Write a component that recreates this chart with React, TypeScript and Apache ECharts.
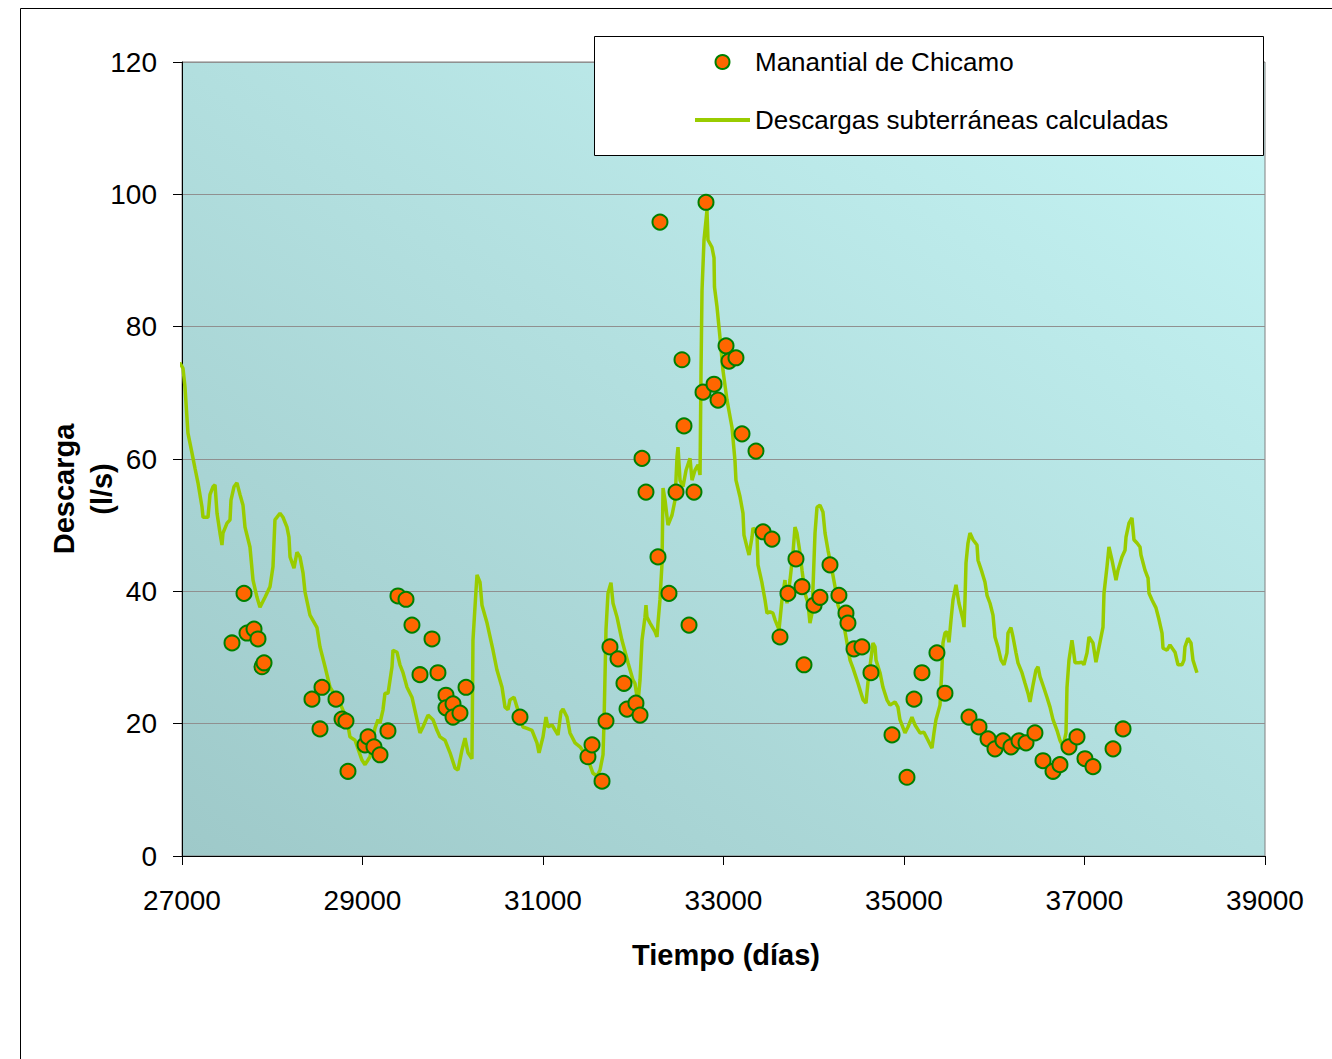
import React, { useEffect, useRef } from "react";
import * as echarts from "echarts";

// Observed spring discharge: [day, l/s]
const springDays = [
  27554, 27687, 27720, 27798, 27842, 27886, 27909, 28440, 28551, 28529, 28706, 28773, 28817, 28839,
  29028, 29061, 29127, 29194, 29282, 29393, 29482, 29548, 29637, 29770, 29836, 29925, 29925, 30003,
  30003, 30080, 30147, 30745, 31498, 31543, 31654, 31698, 31742, 31831, 31897, 31931, 32030, 32075,
  32097, 32141, 32274, 32296, 32396, 32474, 32540, 32562, 32618, 32673, 32773, 32806, 32895, 32939,
  33028, 33061, 33138, 33205, 33360, 33438, 33537, 33626, 33714, 33803, 33870, 33892, 34003, 34069,
  34180, 34279, 34357, 34379, 34446, 34534, 34634, 34867, 35033, 35111, 35199, 35365, 35454, 35720,
  35831, 35931, 36008, 36097, 36185, 36274, 36352, 36451, 36540, 36651, 36728, 36828, 36917, 37005,
  37094, 37316, 37427,
];
const springValues = [
  32.2, 39.7, 33.7, 34.3, 32.8, 28.6, 29.2, 23.7, 25.5, 19.2, 23.7, 20.7, 20.4, 12.8,
  16.8, 18.0, 16.5, 15.3, 18.9, 39.3, 38.8, 34.9, 27.4, 32.8, 27.7, 24.3, 22.4, 23.0,
  21.0, 21.6, 25.5, 21.0, 15.0, 16.8, 11.3, 20.4, 31.6, 29.8, 26.1, 22.2, 23.1, 21.3,
  60.1, 55.0, 45.2, 95.8, 39.7, 55.0, 75.0, 65.0, 34.9, 55.0, 70.1, 98.8, 71.3, 68.9,
  77.1, 74.8, 75.3, 63.8, 61.2, 49.0, 47.9, 33.1, 39.7, 44.9, 40.7, 28.9, 37.9, 39.1,
  44.0, 39.4, 36.7, 35.2, 31.3, 31.6, 27.7, 18.3, 11.9, 23.7, 27.7, 30.7, 24.6, 21.0,
  19.5, 17.7, 16.2, 17.4, 16.5, 17.4, 17.1, 18.6, 14.4, 12.8, 13.8, 16.5, 18.0, 14.7,
  13.5, 16.2, 19.2,
];

// Calculated groundwater discharge: [day, l/s]
const calcDays = [
  26911, 26922, 26978, 27011, 27033, 27066, 27111, 27144, 27177, 27222, 27233, 27288, 27310, 27343,
  27366, 27388, 27421, 27443, 27454, 27499, 27532, 27543, 27576, 27609, 27643, 27676, 27698, 27753,
  27787, 27831, 27864, 27920, 27975, 28008, 28030, 28086, 28119, 28163, 28185, 28197, 28241, 28274,
  28307, 28341, 28363, 28418, 28496, 28529, 28585, 28640, 28751, 28828, 28861, 28917, 28994, 29028,
  29083, 29138, 29172, 29194, 29227, 29249, 29283, 29327, 29338, 29382, 29415, 29449, 29493, 29548,
  29604, 29637, 29670, 29726, 29781, 29825, 29859, 29914, 29970, 30025, 30058, 30102, 30136, 30169,
  30213, 30224, 30258, 30269, 30302, 30324, 30380, 30446, 30490, 30546, 30579, 30612, 30634, 30679,
  30712, 30778, 30823, 30878, 30933, 30956, 31000, 31033, 31055, 31100, 31166, 31199, 31222, 31266,
  31299, 31355, 31410, 31488, 31554, 31598, 31632, 31665, 31676, 31698, 31720, 31753, 31776, 31820,
  31875, 31942, 31997, 32019, 32052, 32075, 32097, 32130, 32141, 32152, 32186, 32241, 32263, 32274,
  32296, 32319, 32330, 32352, 32385, 32429, 32463, 32485, 32496, 32518, 32551, 32585, 32629, 32651,
  32684, 32718, 32740, 32751, 32762, 32784, 32806, 32817, 32828, 32872, 32895, 32900, 32928, 32961,
  32994, 33039, 33094, 33127, 33138, 33183, 33216, 33227, 33260, 33283, 33316, 33327, 33371, 33382,
  33426, 33460, 33482, 33515, 33548, 33571, 33615, 33648, 33681, 33704, 33737, 33770, 33792, 33814,
  33848, 33870, 33903, 33936, 33958, 33981, 34014, 34036, 34069, 34102, 34125, 34158, 34202, 34236,
  34269, 34324, 34357, 34402, 34435, 34490, 34546, 34579, 34601, 34623, 34656, 34679, 34690, 34734,
  34767, 34811, 34845, 34900, 34933, 34955, 35011, 35044, 35088, 35122, 35177, 35221, 35266, 35310,
  35332, 35354, 35399, 35421, 35432, 35454, 35476, 35498, 35521, 35543, 35576, 35609, 35654, 35665,
  35676, 35687, 35709, 35731, 35765, 35809, 35820, 35864, 35897, 35920, 35953, 35986, 36008, 36041,
  36075, 36108, 36141, 36152, 36185, 36208, 36241, 36263, 36307, 36341, 36374, 36396, 36429, 36462,
  36485, 36507, 36540, 36584, 36618, 36651, 36695, 36728, 36762, 36795, 36806, 36828, 36861, 36872,
  36895, 36939, 36972, 36994, 37028, 37050, 37094, 37127, 37161, 37205, 37216, 37249, 37271, 37305,
  37349, 37371, 37415, 37449, 37460, 37493, 37526, 37548, 37582, 37615, 37626, 37670, 37704, 37715,
  37748, 37792, 37826, 37859, 37870, 37914, 37947, 38003, 38036, 38080, 38102, 38113, 38146, 38180,
  38202, 38246,
];
const calcValues = [
  81.3, 73.9, 74.5, 73.7, 70.9, 63.9, 60.9, 58.6, 56.4, 52.7, 51.2, 51.2, 54.6, 55.8,
  56.1, 51.8, 48.8, 47.0, 48.8, 50.3, 50.8, 53.8, 55.8, 56.4, 54.6, 53.0, 49.7, 46.7,
  41.7, 39.1, 37.6, 39.1, 40.7, 43.7, 50.8, 51.8, 51.2, 49.7, 48.2, 45.2, 43.5, 45.9,
  45.2, 42.8, 39.9, 36.4, 34.5, 31.6, 28.6, 25.5, 23.1, 20.6, 18.0, 17.5, 14.5, 13.8,
  15.0, 19.3, 20.6, 20.1, 22.1, 24.6, 24.6, 28.6, 31.1, 30.8, 28.9, 27.7, 25.5, 24.0,
  20.6, 18.6, 19.5, 21.3, 20.6, 19.0, 18.0, 17.5, 15.6, 13.3, 13.0, 16.0, 17.8, 15.6,
  14.7, 32.6, 40.2, 42.5, 41.4, 37.9, 35.2, 31.1, 28.1, 25.5, 22.5, 22.1, 23.6, 24.0,
  22.5, 19.5, 19.3, 19.0, 17.1, 15.6, 18.0, 21.0, 19.5, 19.8, 18.3, 21.8, 22.2, 21.0,
  18.6, 17.1, 16.5, 15.0, 12.5, 12.1, 13.0, 15.3, 20.1, 34.2, 39.7, 41.3, 38.2, 36.1,
  32.6, 29.2, 26.6, 26.1, 23.1, 26.6, 32.6, 36.1, 37.9, 36.1, 35.2, 33.9, 33.1, 35.2,
  38.7, 44.3, 55.6, 53.8, 50.0, 51.5, 53.8, 60.3, 61.8, 56.8, 55.8, 58.3, 60.1, 56.8,
  58.3, 59.1, 57.6, 73.4, 85.5, 93.1, 96.1, 97.6, 93.1, 92.0, 90.4, 86.0, 83.0, 78.4,
  73.4, 68.9, 64.8, 59.8, 56.8, 54.3, 51.8, 48.5, 46.7, 45.5, 48.2, 49.6, 48.8, 44.0,
  41.3, 38.7, 36.7, 36.9, 36.7, 35.7, 34.2, 38.7, 41.7, 38.2, 41.7, 45.8, 49.7, 48.8,
  45.8, 43.2, 39.7, 38.2, 35.2, 36.7, 48.8, 52.7, 53.0, 52.0, 48.8, 46.2, 43.2, 40.7,
  37.9, 35.7, 33.1, 29.6, 28.4, 26.1, 23.6, 23.1, 26.3, 28.6, 32.2, 31.6, 29.6, 27.7,
  25.5, 23.6, 22.8, 23.3, 22.5, 20.6, 18.6, 19.5, 21.0, 19.8, 18.6, 18.7, 17.5, 16.3,
  18.6, 20.6, 22.8, 28.6, 32.2, 33.7, 33.9, 32.3, 35.7, 38.7, 41.0, 38.2, 35.7, 34.6,
  38.7, 44.3, 47.3, 48.8, 47.8, 47.0, 44.7, 42.9, 41.4, 39.4, 38.2, 36.4, 33.1, 31.6,
  29.6, 28.9, 30.7, 33.7, 34.5, 33.1, 30.7, 29.2, 27.7, 26.1, 24.6, 23.3, 25.8, 28.1,
  28.6, 27.1, 25.8, 24.0, 22.5, 20.6, 19.0, 17.5, 16.5, 18.6, 25.5, 29.6, 32.6, 31.6,
  29.2, 29.2, 29.3, 28.9, 30.7, 33.1, 32.2, 29.3, 31.6, 34.6, 39.7, 43.7, 46.7, 44.7,
  41.7, 43.2, 45.2, 46.2, 48.2, 50.3, 51.1, 47.8, 47.3, 46.7, 45.5, 43.2, 42.0, 39.7,
  38.7, 37.5, 35.7, 33.7, 31.4, 31.1, 31.9, 30.8, 28.9, 28.9, 29.6, 31.6, 32.9, 32.2,
  29.6, 27.7,
];

const seriesNames = ["Manantial de Chicamo", "Descargas subterráneas calculadas"];
const xAxisTitle = "Tiempo (días)";
const yAxisTitle = "Descarga\n(l/s)";

const FONT = "'Liberation Sans', Arial, sans-serif";

export default function App() {
  const ref = useRef<HTMLDivElement>(null);

  useEffect(() => {
    if (!ref.current) return;
    const chart = echarts.init(ref.current, null, { renderer: "svg" });
    const springData = springDays.map((d, i) => [d, springValues[i]]);
    const calcData = calcDays.map((d, i) => [d, calcValues[i]]);

    chart.setOption({
      animation: false,
      backgroundColor: "#ffffff",
      textStyle: { fontFamily: FONT, color: "#000" },
      grid: {
        left: 182,
        top: 62,
        width: 1083,
        height: 794,
        show: true,
        borderColor: "#808080",
        borderWidth: 1,
        backgroundColor: new echarts.graphic.LinearGradient(0, 1, 1, 0, [
          { offset: 0, color: "#9ec9c9" },
          { offset: 1, color: "#c6f5f5" },
        ]),
      },
      xAxis: {
        type: "value",
        min: 27000,
        max: 39000,
        interval: 2000,
        axisLine: { show: true, onZero: false, lineStyle: { color: "#000", width: 1 } },
        axisTick: { show: true, inside: false, length: 9, lineStyle: { color: "#000" } },
        axisLabel: {
          fontSize: 28,
          color: "#000",
          fontFamily: FONT,
          margin: 30,
          formatter: (v: number) => String(v),
        },
        splitLine: { show: false },
      },
      yAxis: {
        type: "value",
        min: 0,
        max: 120,
        interval: 20,
        axisLine: { show: true, lineStyle: { color: "#000", width: 1 } },
        axisTick: { show: true, inside: false, length: 9, lineStyle: { color: "#000" } },
        axisLabel: {
          fontSize: 28,
          color: "#000",
          fontFamily: FONT,
          margin: 25,
          formatter: (v: number) => String(v),
        },
        splitLine: { show: true, lineStyle: { color: "#909090", width: 1 } },
      },
      legend: {
        show: true,
        orient: "vertical",
        left: 695,
        top: 48,
        itemWidth: 55,
        itemHeight: 14,
        itemGap: 30,
        padding: 0,
        symbolKeepAspect: true,
        data: [
          { name: seriesNames[0], icon: "circle" },
          { name: seriesNames[1], icon: "path://M0 0H55V4H0Z" },
        ],
        textStyle: { fontSize: 26, color: "#000", fontFamily: FONT, lineHeight: 28 },
        z: 10,
      },
      graphic: [
        {
          type: "rect",
          z: 8,
          shape: { x: 594.5, y: 36.5, width: 669, height: 119 },
          style: { fill: "#ffffff", stroke: "#000000", lineWidth: 1 },
        },
        {
          type: "rect",
          z: 1,
          silent: true,
          shape: { x: 20.5, y: 8.5, width: 1400, height: 1100 },
          style: { fill: "none", stroke: "#000000", lineWidth: 1 },
        },
        {
          type: "text",
          z: 10,
          x: 726,
          y: 955,
          style: {
            text: xAxisTitle,
            font: `bold 29px ${FONT}`,
            fill: "#000",
            align: "center",
            verticalAlign: "middle",
          },
        },
        {
          type: "text",
          z: 10,
          x: 83,
          y: 489,
          rotation: Math.PI / 2,
          style: {
            text: yAxisTitle,
            font: `bold 29px ${FONT}`,
            fill: "#000",
            align: "center",
            verticalAlign: "middle",
            lineHeight: 38,
          },
        },
      ],
      series: [
        {
          name: seriesNames[1],
          type: "line",
          data: calcData,
          symbol: "none",
          showSymbol: false,
          clip: false,
          z: 2,
          lineStyle: { color: "#99CC00", width: 3.5 },
          itemStyle: { color: "#99CC00" },
        },
        {
          name: seriesNames[0],
          type: "scatter",
          data: springData,
          symbol: "circle",
          symbolSize: 15,
          z: 3,
          itemStyle: { color: "#FF6600", borderColor: "#008000", borderWidth: 2, opacity: 1 },
        },
      ],
    });

    return () => chart.dispose();
  }, []);

  return (
    <div
      ref={ref}
      style={{ position: "absolute", left: 0, top: 0, width: 1332, height: 1059 }}
    />
  );
}
